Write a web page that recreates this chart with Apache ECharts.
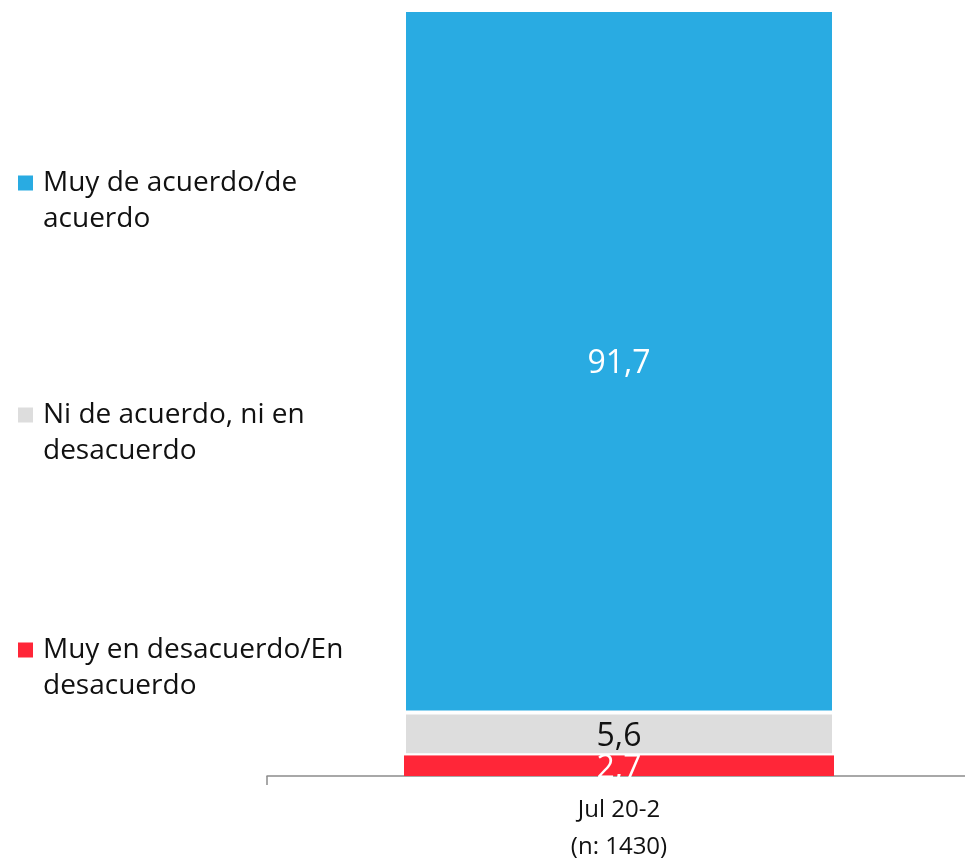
<!DOCTYPE html>
<html><head><meta charset="utf-8">
<script src="https://cdn.jsdelivr.net/npm/echarts@6/dist/echarts.min.js"></script>
<style>html,body{margin:0;padding:0;background:#fff}#c{width:965px;height:860px}</style>
</head><body><div id="c"></div>
<script>
const categories = ['Jul 20-2\n(n: 1430)'];
const seriesNames = ['Muy en desacuerdo/En desacuerdo', 'Ni de acuerdo, ni en desacuerdo', 'Muy de acuerdo/de acuerdo'];
const legendLabels = ['Muy en desacuerdo/En\ndesacuerdo', 'Ni de acuerdo, ni en\ndesacuerdo', 'Muy de acuerdo/de\nacuerdo'];
const desacuerdo = [2.7];
const neutral = [5.6];
const acuerdo = [91.7];
const colors = ['#FF2638', '#DDDDDD', '#29ABE2'];
const labelColors = ['#ffffff', '#111111', '#ffffff'];
const values = [desacuerdo, neutral, acuerdo];

const FONT = 'Open Sans';
const chart = echarts.init(document.getElementById('c'), null, {renderer: 'canvas'});

// square at top of a taller icon box so it lines up with the first text line
const ICON = 'path://M0,0H15V15H0Z M19.99,50.99H20V51H19.99Z';
const legendTops = [632, 397, 165];
const legends = seriesNames.map((n, i) => ({
  data: [n],
  left: 18,
  top: legendTops[i],
  padding: 0,
  itemWidth: 20,
  itemHeight: 51,
  itemGap: 0,
  icon: ICON,
  selectedMode: false,
  itemStyle: {borderWidth: 0},
  formatter: () => legendLabels[i],
  textStyle: {fontFamily: FONT, fontSize: 28, color: '#111', lineHeight: 36}
}));

chart.setOption({
  animation: false,
  textStyle: {fontFamily: FONT},
  legend: legends,
  grid: {left: 267, right: -6, top: 10, bottom: 84, containLabel: false, outerBoundsMode: 'none'},
  xAxis: {
    type: 'category',
    data: categories,
    axisLine: {lineStyle: {color: '#8c8c8c', width: 1.5}},
    axisTick: {show: true, length: 9, lineStyle: {color: '#8c8c8c', width: 1.5}},
    axisLabel: {fontFamily: FONT, fontSize: 24, color: '#111', lineHeight: 37, margin: 16}
  },
  yAxis: {type: 'value', min: 0, max: 100, show: false, splitLine: {show: false}},
  series: seriesNames.map((n, i) => ({
    name: n,
    type: 'bar',
    stack: 'total',
    data: values[i],
    barWidth: 430,
    itemStyle: {color: colors[i], borderColor: '#ffffff', borderWidth: i === 0 ? 0 : 2},
    label: {
      show: true,
      position: 'inside',
      offset: [0, 3],
      fontFamily: FONT,
      fontSize: 32,
      color: labelColors[i],
      formatter: p => String(p.value).replace('.', ',')
    }
  }))
});
</script></body></html>
